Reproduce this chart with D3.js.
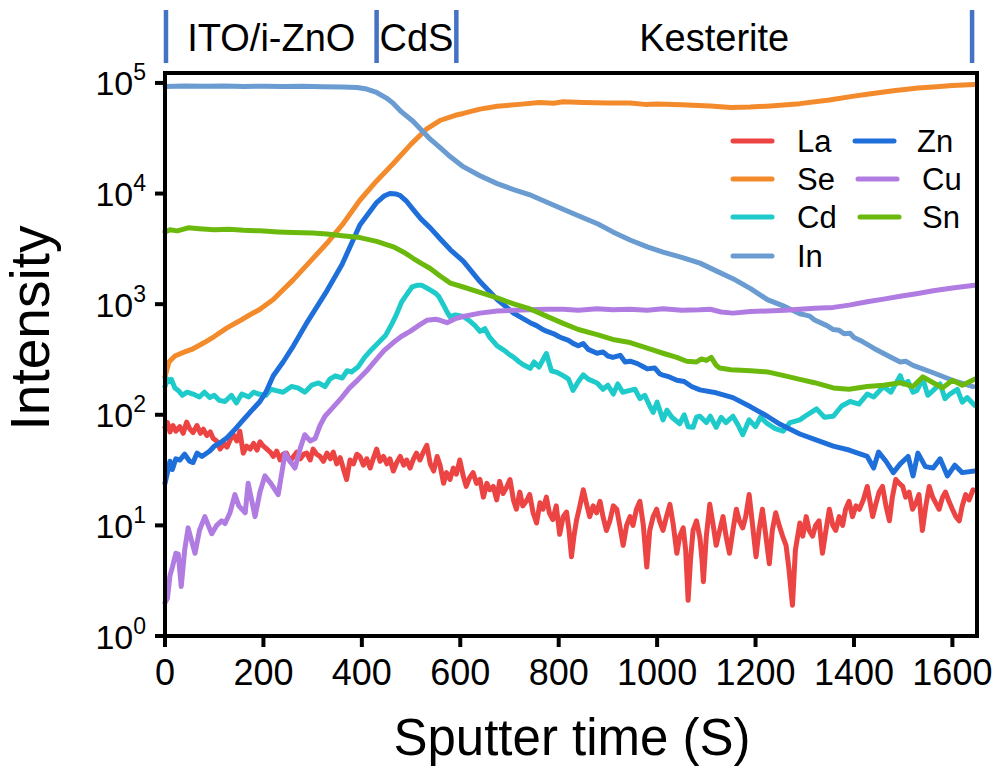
<!DOCTYPE html>
<meta charset="utf-8">
<style>
    body { margin: 0; background: #fff; }
    text { font-family: 'Liberation Sans', Arial, sans-serif; fill: #000; }
    .frame { fill: none; stroke: #000; stroke-width: 4px; }
    .tick-mark { stroke: #000; stroke-width: 4px; }
    .tick-label { font-size: 36px; }
    .axis-title { font-size: 51px; }
    .layer-label { font-size: 38px; }
    .layer-bar { stroke: #4472C4; stroke-width: 4.5px; }
    .series { fill: none; stroke-width: 5px; stroke-linejoin: round; stroke-linecap: round; }
    .legend-line { stroke-width: 5px; stroke-linecap: round; }
    .legend-label { font-size: 31px; }
</style>
<body>
<div id="chart"></div>
<script src="https://d3js.org/d3.v7.min.js"></script>
<script>
    var width = 1000,
        height = 771;

    var plot_left = 165,
        plot_right = 977,
        plot_top = 73,
        plot_bottom = 636;

    // sputter time (s), intensity
    var la_data = [[0,77],[5,85],[10,70],[16,80],[22,71],[30,78],[37,68],[44,86],[50,75],[57,69],[65,80],[72,68],[78,74],[85,65],[92,70],[98,61],[105,58],[112,49],[120,55],[126,51],[133,60],[139,66],[146,58],[152,71],[159,45],[166,52],[173,49],[180,55],[187,48],[193,57],[200,52],[207,49],[214,46],[220,42],[227,47],[234,39],[240,44],[247,45],[254,38],[261,42],[268,46],[275,40],[282,44],[288,45],[295,39],[301,49],[308,44],[315,42],[322,38],[329,45],[336,40],[342,46],[349,36],[356,41],[362,33],[369,26],[376,39],[383,36],[390,44],[396,42],[403,35],[410,40],[417,33],[423,40],[430,49],[437,38],[444,42],[451,36],[457,40],[464,31],[471,37],[478,42],[485,35],[491,39],[498,33],[505,40],[511,45],[518,39],[525,46],[532,53],[539,36],[546,31],[553,42],[559,35],[566,24],[572,30],[579,26],[586,33],[592,29],[599,39],[606,28],[612,22.5],[619,27],[626,30],[633,24],[640,26],[647,18],[654,24],[660,21],[667,22.5],[674,17],[680,25],[687,19.4],[694,22],[701,26],[708,17],[714,14],[721,20],[727,15],[734,16.5],[741,19],[748,13],[755,10.5],[762,16],[768,14],[775,18],[781,13],[788,11.3],[795,15],[802,8.3],[809,12],[816,13.2],[821,9],[826,5.2],[831,8],[836,11],[843,15],[850,21],[856,16],[863,12],[870,15],[877,13],[884,16.5],[890,12],[897,9],[904,11],[911,15],[918,14],[924,10],[931,6.6],[938,10],[945,12],[951,10],[958,14],[965,16.5],[972,10],[979,4.2],[985,9],[992,12],[999,14],[1005,11],[1012,9],[1019,12],[1026,15.5],[1033,10],[1040,5.6],[1046,8],[1053,9.5],[1058,6],[1063,2.1],[1068,5],[1073,9],[1080,11],[1087,7.7],[1091,5],[1094,3.1],[1100,8],[1107,15.5],[1114,10],[1120,6.6],[1127,9],[1134,12],[1140,8],[1147,5.6],[1154,9],[1161,14],[1167,11],[1174,9.5],[1180,12],[1187,19],[1194,10],[1201,5.2],[1207,9],[1214,14],[1221,8],[1228,4.5],[1234,9],[1241,13],[1248,10],[1255,8],[1262,6.6],[1268,4],[1275,1.9],[1281,6],[1290,10.5],[1296,8],[1303,12],[1309,9],[1316,8],[1322,10],[1329,11],[1336,5.6],[1343,9],[1350,14],[1357,10],[1363,9],[1370,12],[1377,10],[1383,14],[1390,16.5],[1397,12],[1404,15],[1411,14],[1419,17],[1427,22.5],[1433,16],[1438,12],[1445,16],[1451,20],[1458,22.5],[1465,15],[1472,11],[1478,18],[1485,26],[1492,24],[1499,22.5],[1505,18],[1512,20],[1519,14],[1526,16],[1532,19],[1539,9],[1546,15],[1553,22.5],[1560,18],[1566,16],[1573,14],[1580,18],[1586,20],[1593,16.5],[1600,14],[1607,12],[1614,11],[1620,15],[1627,19],[1634,17],[1642,21]];

    var se_data = [[0,220],[8,300],[20,340],[40,370],[57,395],[80,450],[100,510],[126,610],[150,700],[170,790],[193,900],[220,1100],[240,1350],[260,1650],[290,2300],[329,3550],[360,5200],[396,8700],[430,13000],[464,18700],[500,28000],[532,38500],[560,46000],[590,51000],[606,53000],[640,58000],[675,61500],[720,64000],[760,66500],[790,65500],[809,67500],[850,66500],[900,66000],[945,66000],[975,64000],[1000,64500],[1050,63500],[1108,62000],[1150,60000],[1189,60500],[1230,62000],[1290,65000],[1350,70000],[1400,76000],[1427,79000],[1480,85000],[1530,90000],[1561,92000],[1600,95000],[1645,97000]];

    var cd_data = [[0,180],[5,210],[10,200],[13,209],[20,175],[27,166],[35,150],[45,160],[57,154],[70,145],[80,160],[91,143],[100,150],[110,135],[122,132],[135,150],[145,128],[156,154],[170,145],[180,160],[190,154],[205,150],[215,170],[224,166],[240,160],[257,180],[270,175],[284,160],[298,185],[312,194],[325,180],[335,210],[346,225],[360,215],[370,250],[379,244],[392,270],[406,332],[420,390],[434,450],[448,520],[461,664],[470,800],[481,1050],[490,1200],[502,1430],[512,1480],[522,1480],[532,1400],[542,1320],[550,1250],[556,1180],[565,1000],[573,850],[579,773],[590,800],[606,773],[620,700],[630,640],[640,568],[650,600],[660,500],[675,419],[690,380],[700,350],[708,332],[720,300],[730,280],[742,263],[750,300],[760,270],[775,358],[785,250],[798,240],[809,226],[820,210],[829,166],[840,200],[850,230],[860,210],[878,194],[890,170],[900,185],[911,154],[920,190],[930,160],[945,166],[955,170],[965,140],[975,150],[985,120],[992,105],[1000,130],[1012,90],[1020,110],[1030,95],[1046,83],[1055,100],[1063,78],[1073,77],[1080,95],[1087,97],[1100,85],[1108,97],[1120,77],[1130,95],[1140,85],[1154,97],[1165,80],[1174,66],[1187,90],[1200,78],[1210,95],[1224,83],[1240,75],[1256,71],[1270,85],[1290,90],[1305,100],[1324,113],[1340,95],[1358,97],[1375,120],[1392,132],[1410,125],[1427,154],[1440,145],[1460,180],[1475,160],[1494,226],[1500,190],[1510,200],[1520,160],[1528,166],[1540,210],[1550,150],[1561,166],[1575,190],[1585,140],[1595,154],[1610,170],[1620,130],[1630,143],[1645,122]];

    var in_data = [[0,93000],[40,94000],[80,93500],[120,94000],[160,93000],[200,93500],[240,93000],[280,93500],[320,92500],[360,92000],[390,91000],[410,88000],[430,82000],[450,73000],[463,66000],[480,55000],[504,45000],[520,38000],[539,31000],[559,26000],[580,21500],[606,17500],[640,14500],[675,12300],[710,10800],[740,9800],[775,8400],[809,7200],[840,6300],[880,5300],[910,4500],[945,3800],[980,3300],[1012,2950],[1050,2650],[1087,2350],[1120,2000],[1154,1700],[1190,1380],[1224,1100],[1260,950],[1290,820],[1300,800],[1310,780],[1320,720],[1345,640],[1358,590],[1370,580],[1380,540],[1392,545],[1400,500],[1413,470],[1440,400],[1470,340],[1494,300],[1505,305],[1520,280],[1561,240],[1600,205],[1642,180]];

    var zn_data = [[0,24],[5,30],[10,38],[15,32],[22,40],[30,39],[40,44],[50,38],[57,37],[65,45],[75,42],[91,47],[100,52],[110,55],[126,62],[140,72],[159,90],[175,108],[193,132],[205,160],[220,225],[240,300],[261,420],[290,700],[329,1320],[360,2300],[396,5200],[430,8300],[445,9500],[457,10000],[470,9900],[478,9600],[490,8600],[504,7200],[520,5900],[539,4900],[559,3900],[580,3100],[606,2450],[640,1600],[675,1100],[710,820],[742,680],[755,640],[765,600],[775,570],[790,540],[800,510],[809,490],[820,470],[830,440],[840,420],[850,440],[860,390],[878,360],[890,370],[900,340],[910,330],[925,345],[935,300],[945,305],[960,290],[970,275],[980,260],[995,265],[1005,235],[1012,228],[1025,220],[1040,205],[1055,200],[1070,180],[1087,168],[1120,158],[1154,143],[1190,118],[1224,97],[1250,82],[1290,67],[1320,60],[1358,52],[1390,48],[1427,42],[1440,33],[1450,46],[1465,38],[1480,30],[1494,36],[1510,42],[1520,28],[1530,45],[1545,34],[1561,33],[1575,40],[1590,28],[1605,35],[1620,30],[1645,31]];

    var cu_data = [[0,2.0],[5,2.2],[10,3.5],[15,4.2],[22,5.6],[27,5.5],[33,2.8],[40,6],[47,9.5],[55,7],[61,5.6],[70,9],[81,12],[88,10],[95,8.4],[105,10],[115,11],[122,10.4],[132,13],[142,19],[150,15],[163,13],[169,24],[176,17],[183,12],[193,20],[203,28],[215,24],[230,19],[244,45],[254,38],[264,33],[275,50],[284,66],[295,58],[305,61],[315,80],[325,97],[340,115],[359,143],[375,175],[393,209],[410,250],[427,307],[445,380],[464,450],[480,510],[498,568],[515,640],[532,715],[550,730],[559,715],[573,680],[590,740],[606,773],[640,830],[675,867],[710,880],[742,890],[775,900],[809,900],[840,880],[878,910],[910,890],[945,900],[980,880],[1012,910],[1050,880],[1087,890],[1108,900],[1130,850],[1154,830],[1190,860],[1224,867],[1260,880],[1290,900],[1320,920],[1358,935],[1390,980],[1427,1050],[1460,1110],[1494,1180],[1530,1250],[1561,1320],[1600,1400],[1645,1480]];

    var sn_data = [[0,4500],[10,4700],[25,4600],[47,4900],[70,4800],[100,4700],[130,4750],[160,4650],[193,4600],[230,4500],[260,4450],[300,4400],[329,4300],[360,4150],[396,4000],[430,3700],[464,3300],[485,2950],[504,2600],[520,2350],[539,2100],[559,1800],[580,1550],[606,1430],[640,1280],[675,1140],[710,1000],[742,905],[775,780],[809,670],[840,590],[878,530],[910,480],[945,450],[980,400],[1012,360],[1040,330],[1060,305],[1080,300],[1090,320],[1100,310],[1110,330],[1120,280],[1127,265],[1150,255],[1190,250],[1224,244],[1260,225],[1290,209],[1320,195],[1358,175],[1390,170],[1427,180],[1460,185],[1494,195],[1520,180],[1540,220],[1561,195],[1580,175],[1600,205],[1620,185],[1645,210]];

    var series_names = ["La", "Se", "Cd", "In", "Zn", "Cu", "Sn"];
    var series_data = [la_data, se_data, cd_data, in_data, zn_data, cu_data, sn_data];
    var series_colors = ["#EC4343", "#F38A2B", "#1ECACA", "#6A9BD1", "#1F6FDA", "#B17CE1", "#6CB90E"];

    var x_ticks = [0, 200, 400, 600, 800, 1000, 1200, 1400, 1600];
    var y_exponents = [0, 1, 2, 3, 4, 5];

    var layer_names = ["ITO/i-ZnO", "CdS", "Kesterite"];
    var layer_edges = [2, 430, 592, 1640];

    var svg = d3.select("#chart").append("svg")
        .attr("width", width)
        .attr("height", height);

    var x = d3.scaleLinear()
        .domain([0, 1650])
        .range([plot_left, plot_right]);

    var y = d3.scaleLog()
        .domain([1, 123000])
        .range([plot_bottom, plot_top]);

    var line = d3.line()
        .x(d => x(d[0]))
        .y(d => y(d[1]));

    // data lines
    svg.selectAll(".series")
        .data(series_data)
        .enter().append("path")
        .attr("class", "series")
        .attr("stroke", (d, i) => series_colors[i])
        .attr("d", line);

    // frame
    svg.append("rect")
        .attr("class", "frame")
        .attr("x", plot_left)
        .attr("y", plot_top)
        .attr("width", plot_right - plot_left)
        .attr("height", plot_bottom - plot_top);

    // x ticks
    svg.selectAll(".x-tick")
        .data(x_ticks)
        .enter().append("line")
        .attr("class", "tick-mark")
        .attr("x1", d => x(d)).attr("x2", d => x(d))
        .attr("y1", plot_bottom).attr("y2", plot_bottom + 11);

    svg.selectAll(".x-label")
        .data(x_ticks)
        .enter().append("text")
        .attr("class", "tick-label")
        .attr("x", d => x(d))
        .attr("y", 685)
        .attr("text-anchor", "middle")
        .text(d => d);

    // y ticks
    svg.selectAll(".y-tick")
        .data(y_exponents)
        .enter().append("line")
        .attr("class", "tick-mark")
        .attr("x1", plot_left - 10).attr("x2", plot_left)
        .attr("y1", d => y(Math.pow(10, d))).attr("y2", d => y(Math.pow(10, d)));

    var y_labels = svg.selectAll(".y-label")
        .data(y_exponents)
        .enter().append("text")
        .attr("class", "tick-label")
        .attr("x", 146)
        .attr("y", d => y(Math.pow(10, d)) + 12.5)
        .attr("text-anchor", "end")
        .style("font-size", "34px");
    y_labels.append("tspan").text("10");
    y_labels.append("tspan")
        .attr("dy", -15)
        .style("font-size", "23px")
        .text(d => d);

    // axis titles
    svg.append("text")
        .attr("class", "axis-title")
        .attr("x", 572)
        .attr("y", 755)
        .attr("text-anchor", "middle")
        .text("Sputter time (S)");

    svg.append("text")
        .attr("class", "axis-title")
        .attr("transform", "translate(49,328) rotate(-90)")
        .attr("text-anchor", "middle")
        .style("font-size", "55px")
        .text("Intensity");

    // layer markers on top
    svg.selectAll(".layer-bar")
        .data(layer_edges)
        .enter().append("line")
        .attr("class", "layer-bar")
        .attr("x1", d => x(d)).attr("x2", d => x(d))
        .attr("y1", 10).attr("y2", 63);

    svg.selectAll(".layer-label")
        .data(layer_names)
        .enter().append("text")
        .attr("class", "layer-label")
        .attr("x", (d, i) => (x(layer_edges[i]) + x(layer_edges[i + 1])) / 2)
        .attr("y", 51)
        .attr("text-anchor", "middle")
        .text(d => d);

    // legend
    var legend_pos = [[733, 141], [733, 179], [733, 217], [733, 256], [855, 141], [858, 179], [860, 217]];
    var legend_text_x = [797, 797, 797, 797, 917, 922, 922];

    var legend = svg.selectAll(".legend-item")
        .data(series_names)
        .enter().append("g")
        .attr("transform", (d, i) => "translate(" + legend_pos[i] + ")");

    legend.append("line")
        .attr("class", "legend-line")
        .attr("x1", 0).attr("x2", 39)
        .attr("y1", 0).attr("y2", 0)
        .attr("stroke", (d, i) => series_colors[i]);

    legend.append("text")
        .attr("class", "legend-label")
        .attr("x", (d, i) => legend_text_x[i] - legend_pos[i][0])
        .attr("y", 11)
        .text(d => d);
</script>
</body>
